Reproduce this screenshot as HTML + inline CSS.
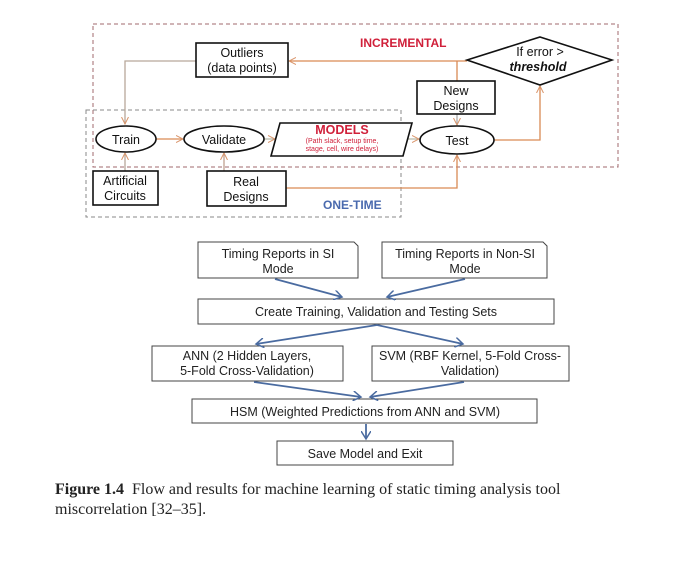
<!DOCTYPE html>
<html><head><meta charset="utf-8"><style>
html,body{margin:0;padding:0;background:#fff;width:691px;height:564px;overflow:hidden;position:relative}
svg{position:absolute;left:0;top:0}
.cap{position:absolute;left:55px;top:480px;font-family:"Liberation Serif",serif;font-size:16px;line-height:20px;color:#222;width:515px}
</style></head><body>
<svg width="691" height="564" viewBox="0 0 691 564" font-family="Liberation Sans, sans-serif">
<defs>
<marker id="oa" markerWidth="8" markerHeight="8" refX="7" refY="4" orient="auto" markerUnits="userSpaceOnUse"><path d="M0,0.5 L7,4 L0,7.5" fill="none" stroke="#d9946a" stroke-width="1"/></marker>
<marker id="ba" markerWidth="10" markerHeight="10" refX="8" refY="5" orient="auto" markerUnits="userSpaceOnUse"><path d="M0,0 L8,5 L0,10" fill="none" stroke="#4a6ba0" stroke-width="1.5"/></marker>
</defs>
<rect x="93" y="24" width="525" height="143" fill="none" stroke="#a0686e" stroke-width="1" stroke-dasharray="4,3"/>
<rect x="86" y="110" width="315" height="107" fill="none" stroke="#888" stroke-width="1" stroke-dasharray="4,3"/>
<text x="360" y="47" font-size="12" font-weight="bold" fill="#d0203a">INCREMENTAL</text>
<text x="323" y="209" font-size="12" font-weight="bold" fill="#4a6aae">ONE-TIME</text>
<g stroke="#d98a55" stroke-width="1.3" fill="none">
<line x1="467" y1="61" x2="289" y2="61" marker-end="url(#oa)"/>
<line x1="457" y1="61" x2="457" y2="81"/>
<polyline points="196,61 125,61 125,124" stroke="#b8a89a" marker-end="url(#oa)"/>
<line x1="156" y1="139" x2="183" y2="139" marker-end="url(#oa)"/>
<line x1="264" y1="139" x2="275" y2="139" stroke="#bba" marker-end="url(#oa)"/>
<line x1="405" y1="139" x2="419" y2="139" stroke="#bba" marker-end="url(#oa)"/>
<line x1="457" y1="114" x2="457" y2="125" stroke="#aaa" marker-end="url(#oa)"/>
<polyline points="494,140 540,140 540,86" marker-end="url(#oa)"/>
<polyline points="286,188 457,188 457,155" marker-end="url(#oa)"/>
<line x1="125" y1="171" x2="125" y2="153" stroke="#b8a89a" marker-end="url(#oa)"/>
<line x1="224" y1="171" x2="224" y2="153" stroke="#c0a090" marker-end="url(#oa)"/>
</g>
<g stroke="#111" stroke-width="1.6" fill="#fff">
<rect x="196" y="43" width="92" height="34"/>
<ellipse cx="126" cy="139" rx="30" ry="13"/>
<ellipse cx="224" cy="139" rx="40" ry="13"/>
<polygon points="280,123 412,123 403,156 271,156"/>
<ellipse cx="457" cy="140" rx="37" ry="14"/>
<rect x="417" y="81" width="78" height="33"/>
<polygon points="540,37 612,60 540,85 467,60"/>
<rect x="93" y="171" width="65" height="34"/>
<rect x="207" y="171" width="79" height="35"/>
</g>
<g font-size="12.5" fill="#111" text-anchor="middle">
<text x="242" y="57">Outliers</text><text x="242" y="72">(data points)</text>
<text x="126" y="144">Train</text>
<text x="224" y="144">Validate</text>
<text x="457" y="145">Test</text>
<text x="456" y="95">New</text><text x="456" y="110">Designs</text>
<text x="540" y="56">If error &gt;</text>
<text x="538" y="71" font-weight="bold" font-style="italic">threshold</text>
<text x="125" y="185">Artificial</text><text x="125" y="200">Circuits</text>
<text x="246" y="186">Real</text><text x="246" y="201">Designs</text>
</g>
<text x="342" y="134" font-size="12.5" font-weight="bold" fill="#d0203a" text-anchor="middle">MODELS</text>
<text x="342" y="143" font-size="7" fill="#d0203a" text-anchor="middle">(Path slack, setup time,</text>
<text x="342" y="151" font-size="7" fill="#d0203a" text-anchor="middle">stage, cell, wire delays)</text>
<g stroke="#444" stroke-width="1" fill="#fff">
<path d="M198,242 H354 L358,246 V278 H198 Z"/>
<path d="M382,242 H543 L547,246 V278 H382 Z"/>
<rect x="198" y="299" width="356" height="25"/>
<rect x="152" y="346" width="191" height="35"/>
<rect x="372" y="346" width="197" height="35"/>
<rect x="192" y="399" width="345" height="24"/>
<rect x="277" y="441" width="176" height="24"/>
</g>
<g stroke="#4a6ba0" stroke-width="1.8" fill="none">
<line x1="275" y1="279" x2="342" y2="297" marker-end="url(#ba)"/>
<line x1="465" y1="279" x2="387" y2="297" marker-end="url(#ba)"/>
<line x1="377" y1="325" x2="256" y2="344" marker-end="url(#ba)"/>
<line x1="377" y1="325" x2="463" y2="344" marker-end="url(#ba)"/>
<line x1="254" y1="382" x2="361" y2="397" marker-end="url(#ba)"/>
<line x1="464" y1="382" x2="370" y2="397" marker-end="url(#ba)"/>
<line x1="366" y1="424" x2="366" y2="439" marker-end="url(#ba)"/>
</g>
<g font-size="12.5" fill="#222" text-anchor="middle">
<text x="278" y="258">Timing Reports in SI</text><text x="278" y="273">Mode</text>
<text x="465" y="258">Timing Reports in Non-SI</text><text x="465" y="273">Mode</text>
<text x="376" y="316">Create Training, Validation and Testing Sets</text>
<text x="247" y="360">ANN (2 Hidden Layers,</text><text x="247" y="375">5-Fold Cross-Validation)</text>
<text x="470" y="360">SVM (RBF Kernel, 5-Fold Cross-</text><text x="470" y="375">Validation)</text>
<text x="365" y="416">HSM (Weighted Predictions from ANN and SVM)</text>
<text x="365" y="458">Save Model and Exit</text>
</g>
</svg>
<div class="cap"><b>Figure 1.4</b>&nbsp; Flow and results for machine learning of static timing analysis tool<br>miscorrelation [32–35].</div>
</body></html>
